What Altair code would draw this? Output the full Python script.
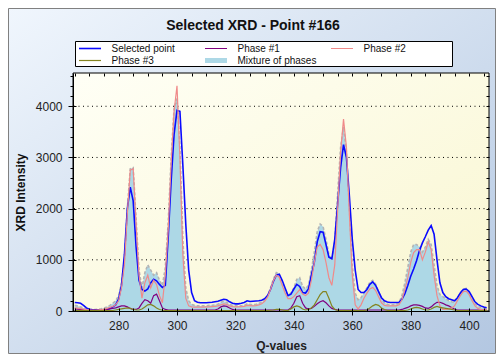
import altair as alt
import pandas as pd

# ---------------- data ----------------
Q = list(range(265, 407))

selected = [
    165, 160, 150, 110, 60, 35, 25, 20, 20, 20,
    25, 30, 50, 80, 120, 230, 500, 1100, 2000, 2420,
    2150, 1250, 600, 420, 390, 430, 550, 620, 590, 520,
    460, 500, 1450, 2550, 3450, 3920, 3900, 2850, 1700, 800,
    360, 200, 170, 160, 160, 160, 165, 170, 180, 190,
    210, 230, 220, 180, 150, 140, 140, 150, 165, 200,
    185, 190, 195, 200, 210, 240, 300, 420, 580, 700,
    720, 600, 450, 300, 330, 430, 520, 480, 360, 350,
    430, 700, 950, 1350, 1550, 1540, 1300, 1050, 1020, 1400,
    2100, 2800, 3250, 3000, 2250, 1400, 800, 420, 360, 360,
    420, 520, 570, 500, 380, 260, 200, 175, 165, 165,
    165, 170, 230, 340, 500, 680, 820, 980, 1180, 1330,
    1450, 1580, 1670, 1500, 1000, 550, 360, 280, 240, 220,
    200, 260, 350, 420, 430, 380, 280, 180, 130, 100,
    80, 65,
]

phase1 = [
    40, 35, 30, 25, 20, 20, 20, 20, 20, 20,
    25, 30, 40, 50, 60, 80, 100, 100, 80, 50,
    30, 30, 60, 150, 220, 200, 150, 300, 330, 200,
    60, 30, 20, 20, 20, 20, 20, 20, 20, 20,
    20, 20, 20, 20, 20, 20, 20, 20, 20, 40,
    80, 100, 90, 60, 30, 20, 20, 20, 20, 20,
    20, 20, 20, 20, 20, 20, 20, 20, 20, 20,
    20, 20, 20, 20, 60, 150, 280, 300, 150, 60,
    40, 50, 90, 140, 180, 200, 160, 100, 50, 30,
    20, 20, 20, 20, 20, 20, 20, 20, 20, 20,
    20, 20, 20, 20, 20, 20, 20, 20, 20, 20,
    20, 20, 30, 50, 70, 100, 120, 120, 110, 90,
    60, 50, 80, 130, 170, 170, 150, 120, 100, 70,
    40, 20, 20, 20, 20, 20, 20, 20, 20, 20,
    20, 20,
]

phase2 = [
    60, 55, 45, 35, 25, 20, 15, 15, 20, 25,
    35, 50, 70, 90, 120, 200, 450, 900, 1900, 2750,
    2780, 1700, 700, 250, 550, 700, 450, 600, 520, 300,
    160, 700, 1600, 2900, 3900, 4400, 3000, 1100, 250, 100,
    80, 75, 75, 75, 75, 80, 80, 85, 90, 100,
    120, 140, 130, 100, 85, 80, 80, 85, 90, 110,
    105, 100, 105, 120, 140, 190, 270, 420, 590, 700,
    660, 500, 350, 240, 240, 280, 350, 420, 330, 300,
    350, 600, 950, 1250, 1300, 1200, 950, 650, 500, 900,
    2000, 3100, 3750, 3200, 1900, 700, 120, 40, 120, 250,
    350, 430, 460, 400, 280, 160, 110, 100, 100, 100,
    100, 120, 220, 420, 650, 950, 1140, 1200, 1200, 1000,
    1150, 1350, 1200, 700, 300, 100, 30, 30, 40, 60,
    100, 200, 300, 380, 390, 320, 200, 100, 50, 30,
    20, 20,
]

phase3 = [
    10, 10, 10, 10, 10, 10, 10, 10, 10, 10,
    10, 10, 10, 10, 20, 30, 40, 50, 60, 50,
    30, 20, 20, 40, 80, 120, 130, 100, 60, 30,
    15, 10, 10, 10, 10, 10, 10, 10, 10, 10,
    10, 10, 10, 10, 10, 10, 10, 10, 10, 10,
    10, 10, 10, 10, 10, 10, 10, 10, 10, 10,
    10, 10, 10, 10, 10, 10, 10, 15, 20, 30,
    30, 20, 10, 10, 40, 80, 100, 80, 40, 20,
    30, 60, 120, 220, 320, 380, 380, 250, 100, 30,
    10, 10, 10, 10, 10, 10, 10, 10, 10, 10,
    20, 60, 100, 130, 110, 60, 30, 10, 10, 10,
    10, 10, 10, 10, 20, 40, 60, 70, 60, 40,
    20, 20, 40, 70, 90, 70, 60, 50, 40, 30,
    20, 10, 10, 10, 10, 10, 10, 10, 10, 10,
    10, 10,
]

mixture = [
    110, 100, 80, 60, 45, 35, 30, 30, 35, 45,
    60, 80, 110, 150, 200, 300, 550, 1000, 2000, 2780,
    2800, 1800, 800, 450, 750, 900, 800, 700, 750, 600,
    500, 850, 1750, 3000, 3950, 4150, 3200, 1400, 450, 200,
    130, 110, 100, 100, 100, 100, 110, 110, 120, 130,
    170, 190, 170, 130, 110, 100, 100, 100, 110, 140,
    130, 120, 130, 150, 170, 220, 300, 450, 620, 750,
    720, 560, 400, 300, 350, 450, 620, 650, 480, 430,
    500, 800, 1150, 1550, 1700, 1650, 1400, 1100, 1000, 1350,
    2300, 3200, 3600, 3100, 2000, 900, 350, 220, 260, 350,
    450, 560, 600, 520, 380, 230, 160, 130, 120, 120,
    130, 160, 300, 550, 850, 1150, 1300, 1300, 1250, 1150,
    1250, 1400, 1300, 900, 500, 320, 280, 240, 200, 180,
    170, 250, 360, 430, 440, 360, 240, 140, 90, 70,
    60, 50,
]

names = ["Selected point", "Phase #1", "Phase #2", "Phase #3", "Mixture of phases"]
colors = ["#0a0aff", "#800080", "#f08a8a", "#848420", "#add8e6"]
widths = [1.6, 1.2, 1.2, 1.2, 5]

x_ticks_major = [280, 300, 320, 340, 360, 380, 400]
x_ticks_minor = list(range(265, 406, 5))
y_ticks_major = [0, 1000, 2000, 3000, 4000]
y_ticks_minor = list(range(0, 4601, 200))
grid_values = [1000, 2000, 3000, 4000]

# ---------------- tables ----------------
series_vals = [selected, phase1, phase2, phase3, mixture]
rows = []
for nm, vals in zip(names, series_vals):
    for q, v in zip(Q, vals):
        rows.append({"q": q, "v": v, "series": nm})
df = pd.DataFrame(rows)
lines_df = df[df["series"] != names[4]]
mix_df = df[df["series"] == names[4]]
grid_df = pd.DataFrame({"g": grid_values})
one = pd.DataFrame({"k": [0]})

# ---------------- layout ----------------
W, H = 416, 238
PL, PT, PR, PB = 65, 65, 7, 43

xs = alt.Scale(domain=[264.4, 406.8], nice=False, zero=False)
ys = alt.Scale(domain=[0, 4650], nice=False)

outer_grad = {"gradient": "linear", "x1": 0, "y1": 0, "x2": 1, "y2": 1,
              "stops": [{"offset": 0, "color": "#f0f6fd"}, {"offset": 1, "color": "#b3c7e1"}]}
plot_grad = {"gradient": "linear", "x1": 0, "y1": 0, "x2": 1, "y2": 1,
             "stops": [{"offset": 0, "color": "#fffff6"}, {"offset": 1, "color": "#f9f6d0"}]}

common = dict(tickColor="black", domainColor="black", zindex=1, grid=False)

axA = alt.Axis(orient="bottom", values=x_ticks_major, tickSize=4, labelPadding=5,
               labelFontSize=12, labelColor="#222222", titleFontSize=12, titleFontWeight="bold",
               titleColor="#222222", titlePadding=9, domain=True, format="d", **common)
axB = alt.Axis(orient="bottom", values=x_ticks_minor, tickSize=3, offset=-3, labels=False,
               domain=False, **common)
axC = alt.Axis(orient="top", values=x_ticks_minor, tickSize=3, offset=-3, labels=False,
               domain=False, **common)
axD = alt.Axis(orient="left", values=y_ticks_major, tickSize=5, labelPadding=6,
               labelFontSize=12, labelColor="#222222", titleFontSize=12, titleFontWeight="bold",
               titleColor="#111111", titlePadding=8, domain=True, format="d", **common)
axE = alt.Axis(orient="left", values=y_ticks_minor, tickSize=3, labels=False, domain=False, **common)
axF = alt.Axis(orient="right", values=y_ticks_minor, tickSize=3, offset=-3, labels=False,
               domain=False, **common)
axG = alt.Axis(orient="left", values=y_ticks_major, tickSize=3, offset=-3, labels=False,
               domain=False, **common)

outer = alt.Chart(one).mark_rect(fill=outer_grad, stroke="#808080", strokeWidth=1).encode(
    x=alt.value(-PL + 0.5), x2=alt.value(W + PR - 0.5),
    y=alt.value(-PT + 0.5), y2=alt.value(H + PB - 0.5))

legend_box = alt.Chart(one).mark_rect(fill="white", stroke="black", strokeWidth=1).encode(
    x=alt.value(2.5), x2=alt.value(379.5), y=alt.value(-31.5), y2=alt.value(-6.5))

plotbg = alt.Chart(one).mark_rect(fill=plot_grad, stroke="black", strokeWidth=1).encode(
    x=alt.value(0), x2=alt.value(W), y=alt.value(0), y2=alt.value(H))

grid = alt.Chart(grid_df).mark_rule(color="black", strokeWidth=1, strokeDash=[1, 3.5]).encode(
    y=alt.Y("g:Q", scale=ys, axis=axD, title="XRD Intensity"))

area = alt.Chart(mix_df).mark_area(color="#add8e6", opacity=1).encode(
    x=alt.X("q:Q", scale=xs, axis=axA, title="Q-values"),
    y=alt.Y("v:Q", scale=ys, axis=axE, title=None))

outline = alt.Chart(mix_df).mark_line(color="#b4b4b4", strokeWidth=1.6, strokeDash=[3, 2]).encode(
    x=alt.X("q:Q", scale=xs, axis=axB, title=None),
    y=alt.Y("v:Q", scale=ys, axis=axF, title=None))

legend = alt.Legend(orient="none", legendX=3, legendY=-32, columns=3, direction="horizontal",
                    symbolType="M-2.75,0L2.75,0", symbolSize=64, symbolOffset=5.5, clipHeight=11,
                    labelFontSize=10, labelColor="#111111",
                    padding=2, columnPadding=13,
                    rowPadding=1, gridAlign="all", labelOffset=15, title=None, zindex=1)

lines = alt.Chart(lines_df).mark_line().encode(
    x=alt.X("q:Q", scale=xs, axis=axC, title=None),
    y=alt.Y("v:Q", scale=ys, axis=axG, title=None),
    color=alt.Color("series:N", scale=alt.Scale(domain=names, range=colors), legend=legend),
    strokeWidth=alt.StrokeWidth("series:N", scale=alt.Scale(type="ordinal", domain=names, range=widths),
                                legend=legend),
    order=alt.Order("so:Q"),
).transform_calculate(so="indexof(['Phase #1','Phase #3','Phase #2','Selected point'], datum.series)")

chart = alt.layer(outer, legend_box, plotbg, grid, area, outline, lines).resolve_axis(
    x="independent", y="independent"
).properties(
    width=W, height=H,
    autosize=alt.AutoSizeParams(type="none"),
    padding={"left": PL, "top": PT, "right": PR, "bottom": PB},
    title=alt.TitleParams("Selected XRD - Point #166", fontSize=14, fontWeight="bold",
                          color="#111111", anchor="middle", frame="group", baseline="alphabetic",
                          offset=0, dx=-28, dy=36, zindex=1),
).configure(font="Liberation Sans").configure_view(stroke=None)

chart.save("out.html", embed_options={"renderer": "svg", "actions": False})
